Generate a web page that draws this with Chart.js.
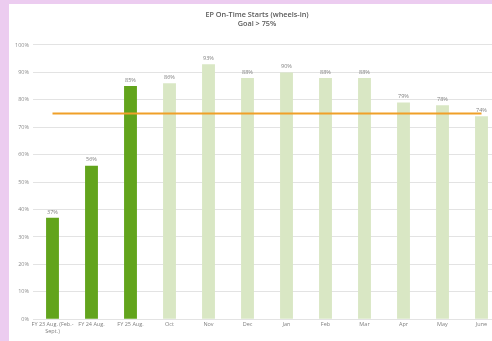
<!DOCTYPE html>
<html>
<head>
<meta charset="utf-8">
<script src="https://cdn.jsdelivr.net/npm/chart.js@4"></script>
<style>
  html, body { margin: 0; padding: 0; width: 492px; height: 341px; overflow: hidden; background: #ecccf0; }
  #wrap { position: absolute; left: 9px; top: 4px; width: 496px; height: 337px; background: #ffffff; }
  canvas { display: block; }
</style>
</head>
<body>
<div id="wrap"><canvas id="c" width="496" height="337"></canvas></div>
<script>
const categories = [['FY 23 Aug. (Feb.-', 'Sept.)'], 'FY 24 Aug.', 'FY 25 Aug.', 'Oct', 'Nov', 'Dec', 'Jan', 'Feb', 'Mar', 'Apr', 'May', 'June'];
const onTime = [37, 56, 85, 86, 93, 88, 90, 88, 88, 79, 78, 74];
const goal = [75, 75, 75, 75, 75, 75, 75, 75, 75, 75, 75, 75];
const barColors = ['#62a41c', '#62a41c', '#62a41c', '#d9e7c4', '#d9e7c4', '#d9e7c4', '#d9e7c4', '#d9e7c4', '#d9e7c4', '#d9e7c4', '#d9e7c4', '#d9e7c4'];
const titleLines = ['EP On-Time Starts (wheels-in)', 'Goal > 75%'];

const valueLabels = {
  id: 'valueLabels',
  afterDatasetsDraw(chart) {
    const ctx = chart.ctx;
    const meta = chart.getDatasetMeta(0);
    ctx.save();
    ctx.font = '5.5px "Open Sans", sans-serif';
    ctx.fillStyle = '#7f7f7f';
    ctx.textAlign = 'center';
    ctx.textBaseline = 'bottom';
    meta.data.forEach((bar, i) => {
      ctx.fillText(onTime[i] + '%', bar.x, bar.y - 3);
    });
    ctx.restore();
  }
};

new Chart(document.getElementById('c'), {
  data: {
    labels: categories,
    datasets: [
      {
        type: 'bar',
        data: onTime,
        backgroundColor: barColors,
        categoryPercentage: 1,
        barPercentage: 0.33,
        order: 1
      },
      {
        type: 'line',
        data: goal,
        borderColor: '#f0a028',
        borderWidth: 2,
        pointRadius: 0,
        fill: false,
        order: 0
      }
    ]
  },
  options: {
    responsive: false,
    animation: false,
    layout: { padding: { top: 0, right: 4, left: 4, bottom: 4.5 } },
    plugins: {
      legend: { display: false },
      tooltip: { enabled: false },
      title: {
        display: true,
        text: titleLines,
        color: '#595959',
        font: { family: '"Open Sans", sans-serif', size: 7.3, weight: '600', lineHeight: 1.23 },
        padding: { top: 6.5, bottom: 16.5 }
      }
    },
    scales: {
      x: {
        grid: { display: false, drawTicks: false },
        border: { display: false },
        ticks: {
          color: '#7f7f7f',
          font: { family: '"Open Sans", sans-serif', size: 5.5 },
          maxRotation: 0,
          autoSkip: false,
          padding: 2
        }
      },
      y: {
        min: 0,
        max: 100,
        grid: { color: '#e3e3e3', lineWidth: 1, drawTicks: false },
        border: { display: false },
        afterFit(scale) { scale.width = 20; },
        ticks: {
          stepSize: 10,
          color: '#8c8c8c',
          font: { family: '"Open Sans", sans-serif', size: 5.5 },
          padding: 4,
          callback: (v) => v + '%'
        }
      }
    }
  },
  plugins: [valueLabels]
});
</script>
</body>
</html>
